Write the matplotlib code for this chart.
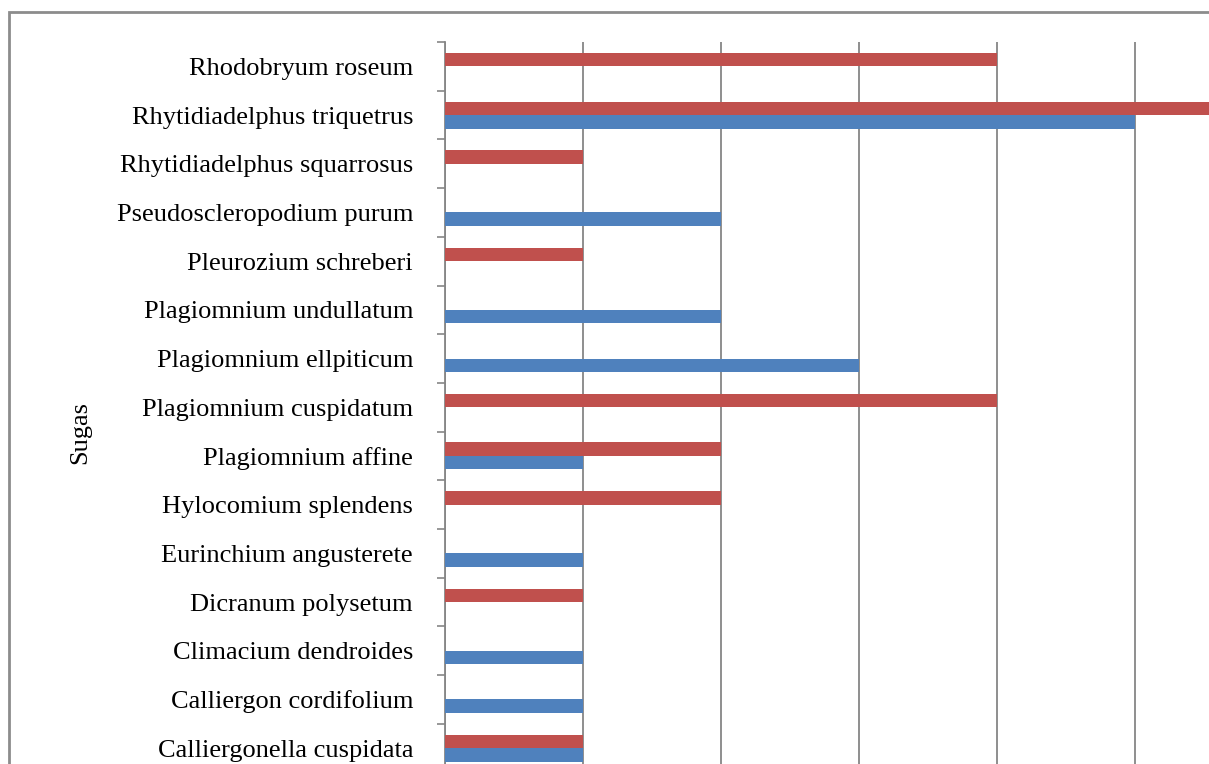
import matplotlib
matplotlib.use("Agg")
import matplotlib.pyplot as plt
from matplotlib.patches import Rectangle

categories = [
    "Rhodobryum roseum",
    "Rhytidiadelphus triquetrus",
    "Rhytidiadelphus squarrosus",
    "Pseudoscleropodium purum",
    "Pleurozium schreberi",
    "Plagiomnium undullatum",
    "Plagiomnium ellpiticum",
    "Plagiomnium cuspidatum",
    "Plagiomnium affine",
    "Hylocomium splendens",
    "Eurinchium angusterete",
    "Dicranum polysetum",
    "Climacium dendroides",
    "Calliergon cordifolium",
    "Calliergonella cuspidata",
]
red_values = [4, 6, 1, 0, 1, 0, 0, 4, 2, 2, 0, 1, 0, 0, 1]
blue_values = [0, 5, 0, 2, 0, 2, 3, 0, 1, 0, 1, 0, 1, 1, 1]
axis_label = "Sugas"

RED = "#C0504D"
BLUE = "#4F81BD"
W, H = 1209, 764

fig = plt.figure(figsize=(W / 100, H / 100), dpi=100)
fig.patch.set_facecolor("white")

# chart-area border
fig.patches.append(Rectangle((9 / W, -0.2), 2.0, (1 - 12 / H) + 0.2,
                             transform=fig.transFigure, fill=False,
                             edgecolor="#8c8c8c", linewidth=2.0))

ax = fig.add_axes([445 / W, 1 - 772.5 / H, 828 / W, (772.5 - 42) / H])
n = len(categories)
ys = list(range(n))
bh = 0.277
ax.barh([y - bh / 2 for y in ys], red_values, height=bh, color=RED, zorder=3)
ax.barh([y + bh / 2 for y in ys], blue_values, height=bh, color=BLUE, zorder=3)

ax.set_ylim(n - 0.5, -0.5)
ax.set_xlim(0, 6)
ax.set_xticks(range(0, 7))
ax.tick_params(axis="x", length=0, labelbottom=False)
ax.grid(axis="x", color="#868686", linewidth=1.3, zorder=1)
ax.set_axisbelow(True)

ax.set_yticks(ys)
ax.set_yticklabels(categories, family="Liberation Serif", fontsize=19)
ax.set_yticks([y - 0.5 for y in range(n + 1)], minor=True)
ax.tick_params(axis="y", which="major", length=0, pad=23)
ax.tick_params(axis="y", which="minor", length=6, width=1.2, color="#868686")

for s in ["top", "right", "bottom"]:
    ax.spines[s].set_visible(False)
ax.spines["left"].set_color("#868686")
ax.spines["left"].set_linewidth(1.3)

fig.text(80 / W, 1 - 433 / H, axis_label, rotation=90, ha="center", va="center",
         family="Liberation Serif", fontsize=19)

fig.savefig("out.png", dpi=100)
